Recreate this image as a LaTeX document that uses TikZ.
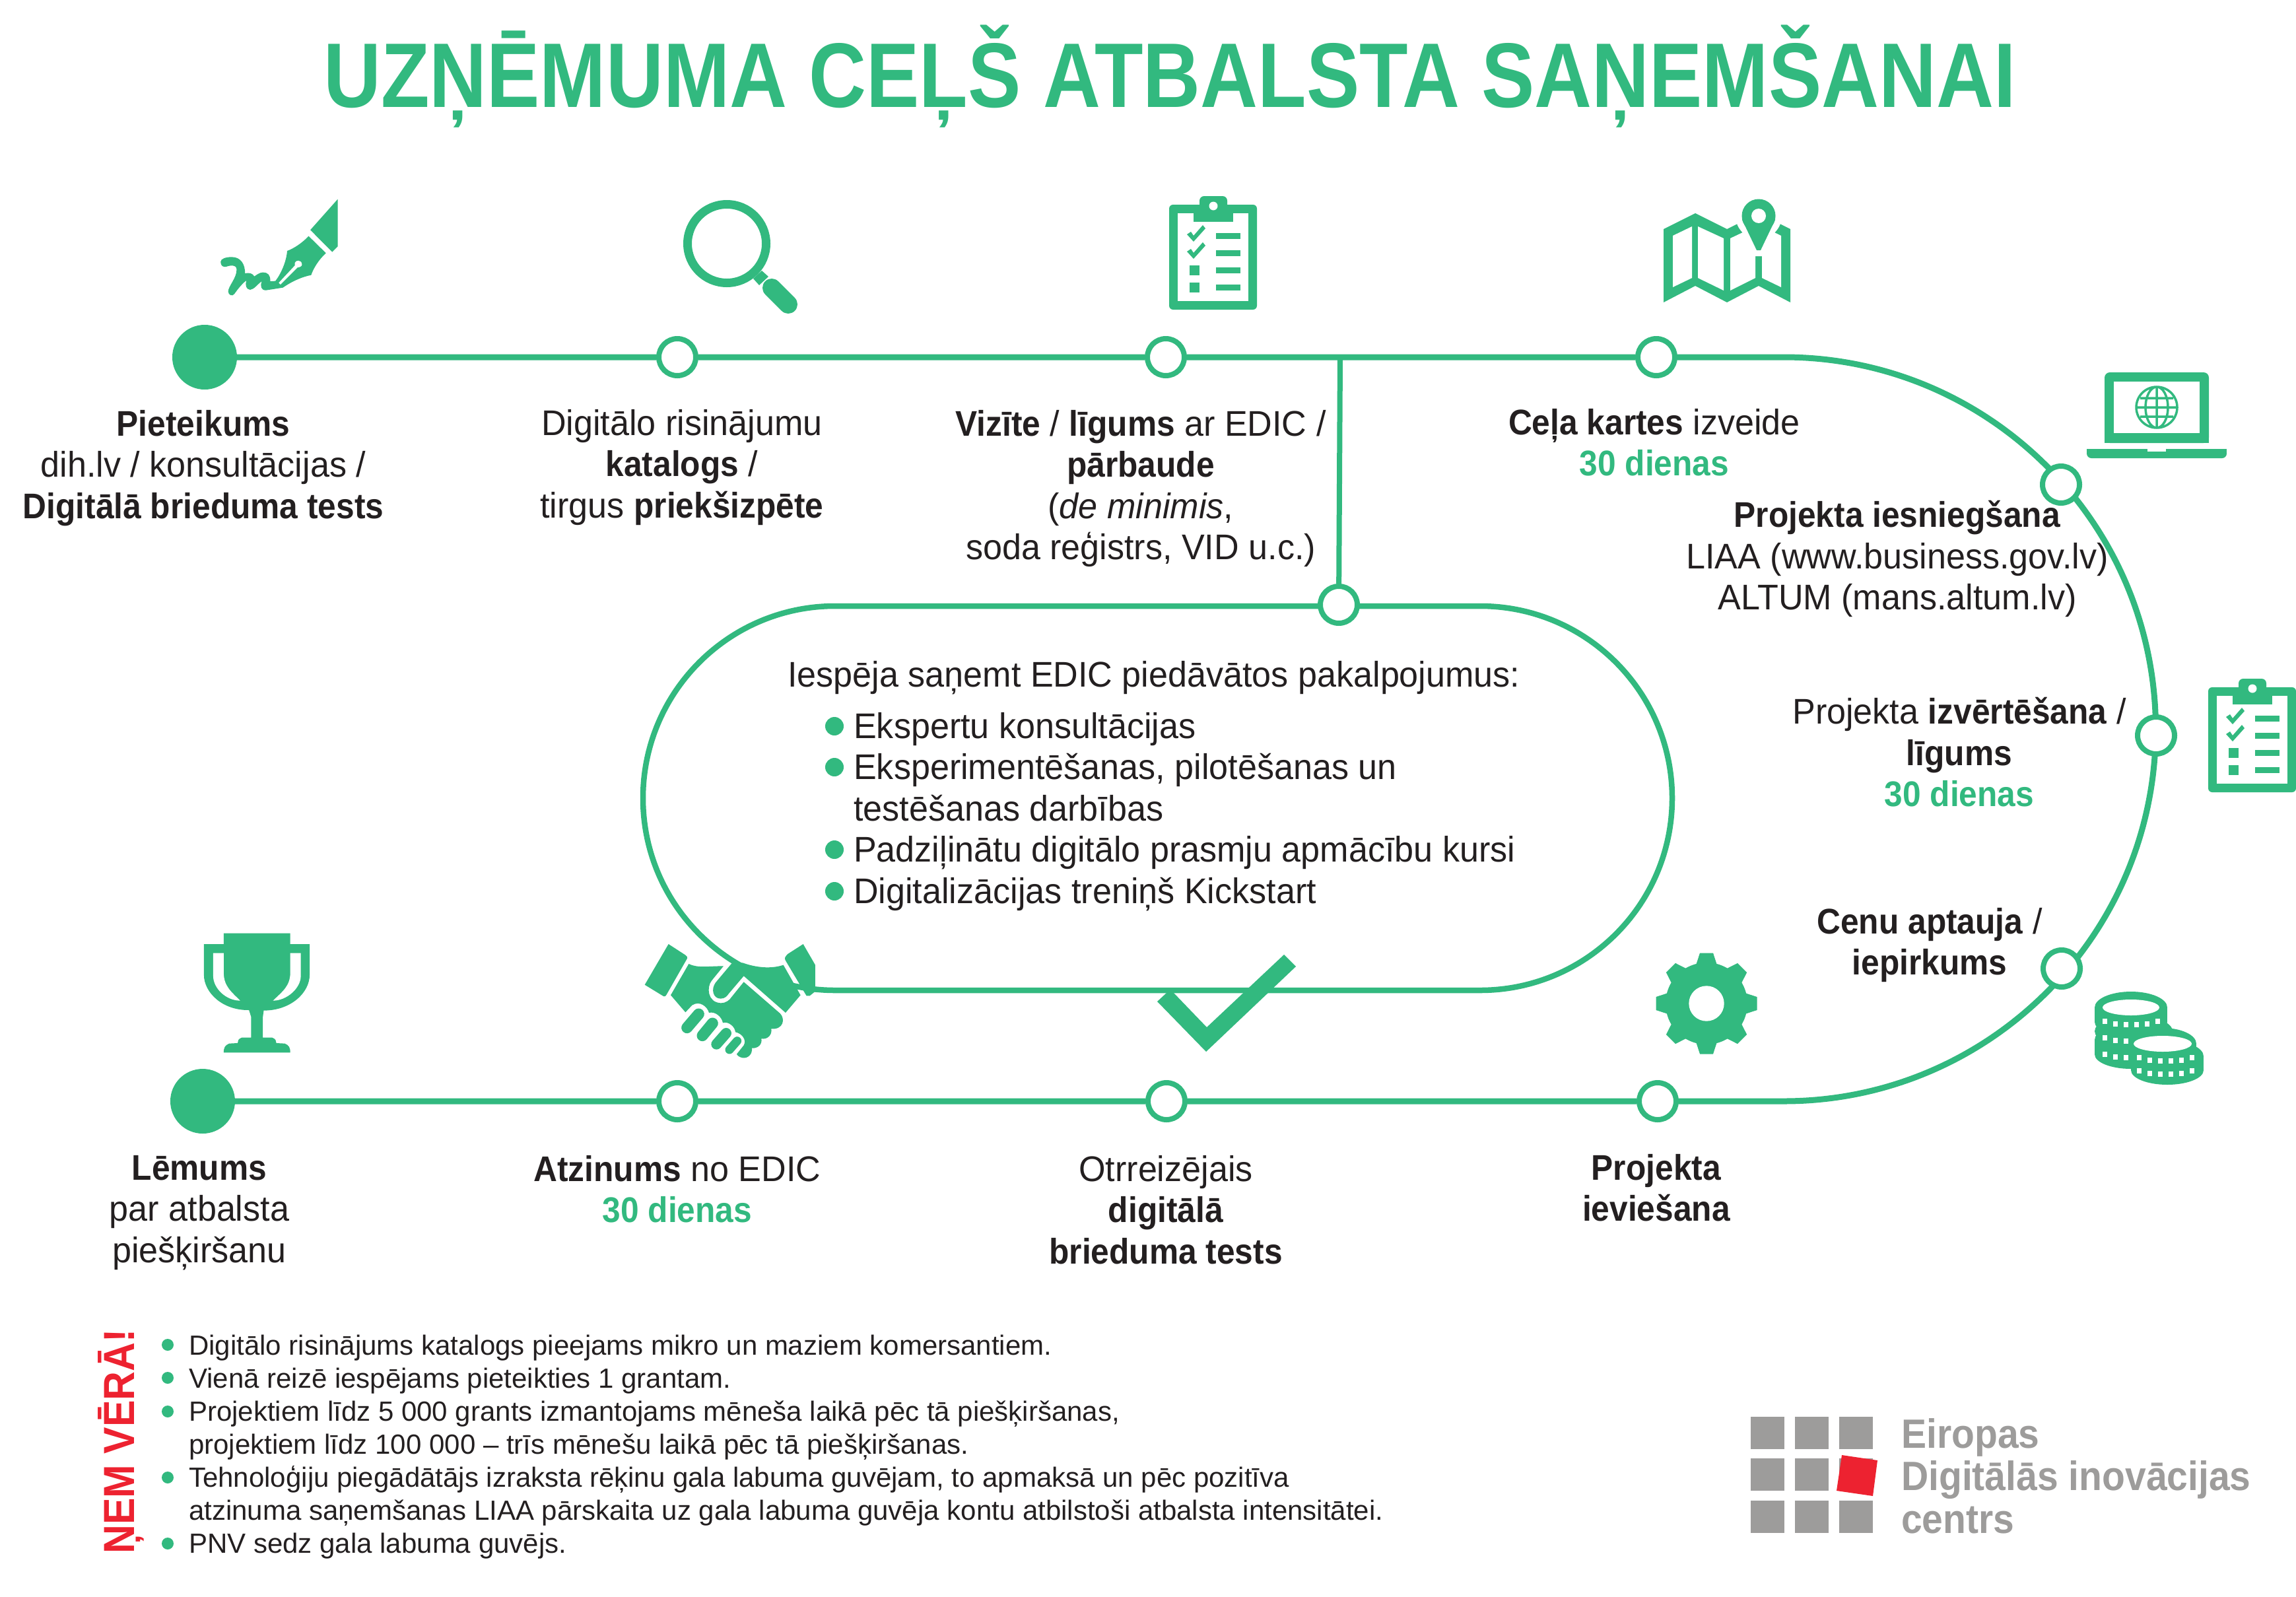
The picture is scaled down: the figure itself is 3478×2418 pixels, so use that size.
\documentclass[tikz,border=0pt]{standalone}
\usepackage{fontspec}
\setmainfont[FakeStretch=0.965,BoldFeatures={FakeStretch=0.92}]{Liberation Sans}
\newfontfamily\titlefont[FakeStretch=0.866,BoldFeatures={FakeStretch=0.866}]{Liberation Sans}
\newfontfamily\notesfont{Liberation Sans}
\usetikzlibrary{backgrounds}
\definecolor{edicgreen}{HTML}{32B97F}
\definecolor{edicred}{HTML}{ED2230}
\definecolor{edicgrey}{HTML}{9D9C9B}
\definecolor{edicink}{HTML}{231F20}
\newcommand{\dienas}{\textcolor{edicgreen}{\textbf{30 dienas}}}
\tikzset{
  checklist/.pic={
    \fill[edicgreen,rounded corners=6pt] (0,0) rectangle (133,159);
    \fill[edicgreen,rounded corners=7pt] (46,-13) rectangle (88,10);
    \fill[white] (13,13) rectangle (120,146);
    \fill[edicgreen] (37,5) rectangle (97,26);
    \fill[white] (67,2) ellipse (6.5 and 6.5);
    \foreach \y in {47,73} {
      \fill[edicgreen] (71,\y-4) rectangle (108,\y+5);
      \fill[edicgreen] (27,\y-2) -- (37,\y+9) -- (55,\y-11) -- (51,\y-16) -- (37,\y) -- (33,\y-6) -- cycle;
    }
    \foreach \y in {99,125} {
      \fill[edicgreen] (71,\y-4) rectangle (108,\y+5);
      \fill[edicgreen] (31,\y-7) rectangle (46,\y+8);
    }
  }
}
\begin{document}
\begin{tikzpicture}[x=1pt,y=-1pt,
    rail/.style={draw=edicgreen,line width=9pt},
    stopnode/.style={circle,draw=edicgreen,line width=8pt,fill=white,minimum size=56pt,inner sep=0pt},
    endnode/.style={circle,fill=edicgreen,minimum size=98pt,inner sep=0pt},
    lbl/.style={anchor=north,align=center,inner sep=0pt,text=edicink,font=\fontsize{54}{62.5}\selectfont,execute at begin node=\strut},
    notes/.style={anchor=north west,align=left,inner sep=0pt,text=edicink,font=\notesfont\fontsize{42}{50}\selectfont,execute at begin node=\strut},
    logotext/.style={anchor=base west,inner sep=0pt,text=edicgrey,font=\fontsize{62}{62}\selectfont\bfseries}]
  \useasboundingbox (0,0) rectangle (3478,2418);
  \node[anchor=base,inner sep=0pt,text=edicgreen,font=\titlefont\fontsize{139}{139}\selectfont\bfseries] (title) at (1772,162) {UZŅĒMUMA CEĻŠ ATBALSTA SAŅEMŠANAI};

  \node[rectangle,rounded corners=291pt,draw=edicgreen,line width=8.5pt,minimum width=1559pt,minimum height=582pt,inner sep=0pt] (pill) at (1753.5,1209) {};

  \node[endnode] (pieteikums) at (310,541) {};
  \node[stopnode] (digitalo) at (1026,541) {};
  \node[stopnode] (vizite) at (1766,541) {};
  \node[stopnode] (kartes) at (2509,541) {};
  \node[stopnode] (iesniegsana) at (3122,734) {};
  \node[stopnode] (izvertesana) at (3266,1114) {};
  \node[stopnode] (aptauja) at (3123,1467) {};
  \node[stopnode] (ieviesana) at (2511,1668) {};
  \node[stopnode] (otrreizejais) at (1767,1668) {};
  \node[stopnode] (atzinums) at (1026,1668) {};
  \node[endnode] (lemums) at (307,1668) {};
  \node[stopnode] (edic) at (2028,916) {};
  \coordinate (junction) at (2030,541);
  \coordinate (topturn) at (2702,541);

  \begin{scope}[on background layer]
    \draw[rail] (pieteikums) -- (digitalo) -- (vizite) -- (kartes) -- (topturn)
      arc[start angle=-90,end angle=90,radius=563.5] -- (ieviesana) -- (otrreizejais) -- (atzinums) -- (lemums);
    \draw[edicgreen,line width=8pt] (junction) -- (edic);
  \end{scope}

  \node[lbl] (pieteikumslbl) at (308,621) {\textbf{Pieteikums}\\dih.lv / konsultācijas /\\\textbf{Digitālā brieduma tests}};
  \node[lbl] (digitalolbl) at (1033,620) {Digitālo risinājumu\\\textbf{katalogs} /\\tirgus \textbf{priekšizpēte}};
  \node[lbl] (vizitelbl) at (1728,621) {\textbf{Vizīte} / \textbf{līgums} ar EDIC /\\\textbf{pārbaude}\\(\textit{de minimis},\\soda reģistrs, VID u.c.)};
  \node[lbl] (karteslbl) at (2506,619) {\textbf{Ceļa kartes} izveide\\\dienas};
  \node[lbl] (iesniegsanalbl) at (2874,758) {\textbf{Projekta iesniegšana}\\LIAA (www.business.gov.lv)\\ALTUM (mans.altum.lv)};
  \node[lbl] (izvertesanalbl) at (2968,1056) {Projekta \textbf{izvērtēšana} /\\\textbf{līgums}\\\dienas};
  \node[lbl] (aptaujalbl) at (2923,1375) {\textbf{Cenu aptauja} /\\\textbf{iepirkums}};
  \node[lbl] (lemumslbl) at (302,1750) {\textbf{Lēmums}\\par atbalsta\\piešķiršanu};
  \node[lbl] (atzinumslbl) at (1026,1750) {\textbf{Atzinums} no EDIC\\\dienas};
  \node[lbl] (otrreizejaislbl) at (1766,1750) {Otrreizējais\\\textbf{digitālā}\\\textbf{brieduma tests}};
  \node[lbl] (ieviesanalbl) at (2509,1748) {\textbf{Projekta}\\\textbf{ieviešana}};

  \node[lbl,anchor=north west] (pillhead) at (1193,997) {Iespēja saņemt EDIC piedāvātos pakalpojumus:};
  \node[lbl,anchor=north west,align=left] (pillitems) at (1293,1079) {Ekspertu konsultācijas\\Eksperimentēšanas, pilotēšanas un\\testēšanas darbības\\Padziļinātu digitālo prasmju apmācību kursi\\Digitalizācijas treniņš Kickstart};
  \foreach \y in {1100,1162,1287,1350}
    \fill[edicgreen] (1264,\y) circle (14);

  \node[anchor=base west,rotate=90,inner sep=0pt,text=edicred,font=\fontsize{66}{66}\selectfont\bfseries] (nemvera) at (203,2354) {ŅEM VĒRĀ!};
  \node[notes] (noteslist) at (286,2022) {Digitālo risinājums katalogs pieejams mikro un maziem komersantiem.\\Vienā reizē iespējams pieteikties 1 grantam.\\Projektiem līdz 5 000 grants izmantojams mēneša laikā pēc tā piešķiršanas,\\projektiem līdz 100 000 – trīs mēnešu laikā pēc tā piešķiršanas.\\Tehnoloģiju piegādātājs izraksta rēķinu gala labuma guvējam, to apmaksā un pēc pozitīva\\atzinuma saņemšanas LIAA pārskaita uz gala labuma guvēja kontu atbilstoši atbalsta intensitātei.\\PNV sedz gala labuma guvējs.};
  \foreach \y in {2037,2087,2138,2238,2338}
    \fill[edicgreen] (254,\y) circle (9);

  \foreach \x in {2652,2719,2786}
    \foreach \y in {2146,2209,2273}
      \fill[edicgrey] (\x,\y) rectangle +(51,49);
  \fill[edicred] (2790,2204) -- (2844,2212) -- (2837,2266) -- (2782,2258) -- cycle;
  \node[logotext] (eiropas) at (2880,2193) {Eiropas};
  \node[logotext] (digitalas) at (2880,2257) {Digitālās inovācijas};
  \node[logotext] (centrs) at (2880,2322) {centrs};

  \begin{scope}[shift={(250,270)},x=0.638pt,y=-0.3333pt,fill=edicgreen]
    \fill (410,95) -- (410,310) -- (397,335) -- (345,235) -- cycle;
    \fill (341,263) .. controls (325,295) and (305,320) .. (290,330) .. controls (288,380) and (275,435) .. (262,467) -- (250,468) .. controls (250,440) and (245,428) .. (232,428) .. controls (225,428) and (218,438) .. (212,446) .. controls (208,432) and (200,428) .. (190,432) .. controls (190,390) and (180,358) .. (158,358) .. controls (145,358) and (132,365) .. (132,380) .. controls (132,398) and (138,405) .. (145,402) .. controls (155,395) and (170,392) .. (170,415) .. controls (170,455) and (150,490) .. (150,515) .. controls (150,530) and (160,540) .. (165,525) .. controls (172,505) and (185,475) .. (193,465) .. controls (190,485) and (192,505) .. (202,507) .. controls (212,505) and (220,480) .. (230,468) .. controls (225,490) and (228,510) .. (240,509) -- (280,497) .. controls (300,470) and (325,448) .. (347,440) .. controls (352,410) and (365,370) .. (382,340) -- cycle;
    \fill[white] (270,475) -- (308,397) -- (308,385) .. controls (310,370) and (325,370) .. (325,392) .. controls (325,400) and (320,405) .. (315,405) -- (274,483) -- cycle;
  \end{scope}

  \draw[edicgreen,line width=13pt] (1101,369) circle (59.5);
  \fill[edicgreen] (1154,410) -- (1164,419) -- (1150,432) -- (1141,422) -- cycle;
  \draw[edicgreen,line width=28pt,line cap=round] (1169,436) -- (1194,461);

  \pic at (1771,310) {checklist};
  \pic at (3345,1041) {checklist};

  \fill[edicgreen] (2520,347) -- (2568,323) -- (2616,347) -- (2664,323) -- (2712,347) -- (2712,458) -- (2664,433) -- (2616,458) -- (2568,433) -- (2520,458) -- cycle;
  \fill[white] (2534,357) -- (2563,343) -- (2563,421) -- (2534,435) -- cycle;
  \fill[white] (2572,343) -- (2611,361) -- (2611,440) -- (2572,421) -- cycle;
  \fill[white] (2621,361) -- (2659,343) -- (2659,421) -- (2621,440) -- cycle;
  \fill[white] (2669,343) -- (2698,357) -- (2698,435) -- (2669,421) -- cycle;
  \fill[white] (2664,327) circle (35);
  \fill[white] (2630,335) -- (2698,335) -- (2669,388) -- (2659,388) -- cycle;
  \fill[edicgreen] (2664,327) circle (25.5);
  \fill[edicgreen] (2639,333) -- (2689,333) -- (2667,379) -- (2661,379) -- cycle;
  \fill[white] (2664,327) circle (11);

  \fill[edicgreen,rounded corners=8pt] (3188,671) -- (3188,564) -- (3346,564) -- (3346,671) -- cycle;
  \fill[edicgreen] (3188,650) rectangle (3346,671);
  \fill[white] (3202,578) rectangle (3332,656);
  \draw[edicgreen,line width=3.5pt] (3267,617) circle (31) (3267,617) ellipse (17 and 31) (3267,586) -- (3267,648) (3236,617) -- (3298,617) (3242,603) -- (3292,603) (3242,631) -- (3292,631);
  \fill[edicgreen,rounded corners=7pt] (3161,680) -- (3161,694) -- (3373,694) -- (3373,680) -- cycle;
  \fill[edicgreen] (3161,680) rectangle (3373,687);
  \fill[white] (3253,678) rectangle (3281,684);

  \foreach \y in {1526,1575} {
    \fill[edicgreen] (3228,\y) ellipse (55 and 24);
    \fill[edicgreen] (3173,\y) rectangle (3283,\y+22);
    \fill[edicgreen] (3228,\y+22) ellipse (55 and 22);
  }
  \fill[edicgreen] (3232,1562) ellipse (59 and 24);
  \fill[white] (3228,1526) ellipse (43 and 12);
  \foreach \y in {1552,1577,1602}
    \foreach \dx/\dy in {-40/-5,-24/-1,-8/0,8/0,24/-1,40/-5}
      \fill[white] (3228+\dx-3.5,\y+\dy-4) rectangle +(7,8);
  \fill[edicgreen] (3276,1581) ellipse (51 and 24);
  \fill[edicgreen] (3225,1581) rectangle (3327,1610);
  \fill[edicgreen] (3283,1600) ellipse (55 and 24);
  \fill[edicgreen] (3228,1600) rectangle (3338,1621);
  \fill[edicgreen] (3283,1621) ellipse (55 and 22);
  \fill[white] (3276,1581) ellipse (44 and 12);
  \foreach \y in {1607,1627}
    \foreach \dx/\dy in {-40/-5,-24/-1,-8/0,8/0,24/-1,40/-5}
      \fill[white] (3280+\dx-3.5,\y+\dy-4) rectangle +(7,8);

  \begin{scope}[shift={(240,1380)},x=0.638pt,y=-0.3333pt]
    \fill[edicgreen] (155,101) -- (313,101) -- (313,150) -- (359,150) -- (359,290) .. controls (359,370) and (315,452) .. (250,452) -- (248,480) -- (248,575) -- (270,575) .. controls (278,580) and (280,590) .. (280,600) -- (300,602) .. controls (310,610) and (313,620) .. (313,643) -- (155,643) .. controls (155,620) and (158,610) .. (168,602) -- (188,600) .. controls (188,590) and (190,580) .. (198,575) -- (220,575) -- (220,480) -- (215,450) .. controls (152,452) and (108,370) .. (108,290) -- (108,150) -- (155,150) -- cycle;
    \fill[white] (313,191) -- (338,191) -- (338,295) .. controls (338,350) and (305,407) .. (272,407) .. controls (295,365) and (313,340) .. (313,280) -- cycle;
    \fill[white] (155,191) -- (130,191) -- (130,295) .. controls (130,350) and (160,407) .. (194,407) .. controls (172,365) and (155,340) .. (155,280) -- cycle;
  \end{scope}

  \begin{scope}[shift={(960,1400)},x=0.3333pt,y=-0.3333pt,fill=edicgreen]
    \fill (158,90) -- (235,140) .. controls (243,145) and (245,150) .. (243,155) -- (150,318) .. controls (145,327) and (140,330) .. (135,327) -- (50,275) -- cycle;
    \fill (250,180) .. controls (290,200) and (340,190) .. (408,190) -- (355,255) .. controls (330,285) and (335,355) .. (395,358) .. controls (420,358) and (435,345) .. (445,330) -- (500,262) -- (665,405) .. controls (690,430) and (680,480) .. (625,475) .. controls (630,500) and (610,525) .. (580,520) .. controls (585,545) and (565,565) .. (537,563) .. controls (540,590) and (520,610) .. (495,607) .. controls (480,605) and (470,595) .. (468,590) -- (500,550) .. controls (515,525) and (490,495) .. (462,490) .. controls (460,465) and (430,440) .. (405,448) .. controls (400,420) and (370,395) .. (342,402) .. controls (335,375) and (300,345) .. (265,368) -- (235,400) -- (168,322) -- cycle;
    \foreach \ax/\ay/\bx/\by/\wd in {295/408/242/470/17,358/450/312/506/17,420/495/376/545/16,470/530/435/570/13}
      \draw[edicgreen,line width=\wd pt,line cap=round] (\ax,\ay) -- (\bx,\by);
    \fill (445,178) -- (372,265) .. controls (350,295) and (360,338) .. (395,338) .. controls (415,338) and (425,325) .. (432,315) -- (500,235) -- (690,402) -- (758,322) -- (680,185) .. controls (620,205) and (550,195) .. (495,175) -- cycle;
    \fill (770,90) -- (825,185) -- (825,305) -- (800,325) -- (785,325) -- (690,165) .. controls (685,155) and (685,150) .. (700,135) -- cycle;
  \end{scope}

  \fill[edicgreen] (1753,1517) -- (1767,1504) -- (1778,1504) -- (1828,1556) -- (1945,1446) -- (1963,1464) -- (1827,1593) -- cycle;

  \fill[edicgreen] (2585,1520) circle (62);
  \foreach \a in {0,45,...,315}
    \fill[edicgreen,rotate around={\a:(2585,1520)}] (2575,1443.5) -- (2595,1443.5) -- (2602,1465) -- (2568,1465) -- cycle;
  \fill[white] (2585,1520) circle (26.7);
\end{tikzpicture}
\end{document}
